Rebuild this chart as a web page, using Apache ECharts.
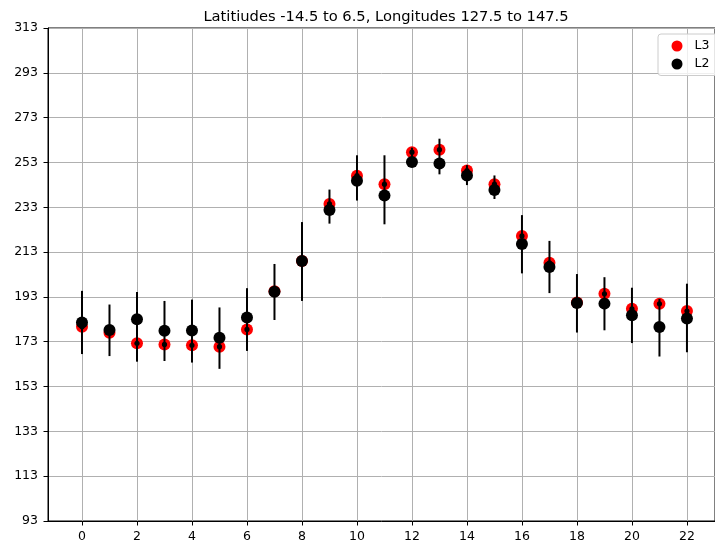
<!DOCTYPE html>
<html>
<head>
<meta charset="utf-8">
<script src="https://cdn.jsdelivr.net/npm/echarts@6/dist/echarts.min.js"></script>
<style>
  html, body { margin: 0; padding: 0; background: #fff; }
  #chart { width: 715px; height: 550px; }
</style>
</head>
<body>
<div id="chart"></div>
<script>
const xs = [0, 1, 2, 3, 4, 5, 6, 7, 8, 9, 10, 11, 12, 13, 14, 15, 16, 17, 18, 19, 20, 21, 22]
const l3 = [179.7, 177.0, 172.3, 171.8, 171.4, 170.8, 178.5, 195.5, 209.0, 234.5, 247.1, 243.3,
  257.6, 258.7, 249.4, 243.3, 220.2, 208.2, 190.5, 194.4, 187.7, 189.9, 186.7]
const l2 = [181.6, 178.2, 183.0, 177.9, 178.0, 174.8, 183.8, 195.3, 209.0, 231.8, 244.8, 238.3,
  253.2, 252.5, 247.2, 240.7, 216.6, 206.3, 190.3, 190.0, 184.8, 179.6, 183.4]
// error bar ends (low / high)
const errLow = [167.5, 166.6, 164.1, 164.4, 163.7, 160.9, 168.9, 182.7, 191.2, 225.7, 236.0, 225.4,
  251.5, 247.7, 242.9, 236.7, 203.5, 194.7, 177.1, 178.1, 172.4, 166.4, 168.3]
const errHigh = [195.7, 189.6, 195.2, 191.2, 191.8, 188.3, 196.9, 207.7, 226.4, 240.9, 256.2, 256.2,
  259.6, 263.6, 251.8, 247.2, 229.5, 218.0, 203.2, 201.8, 197.1, 192.1, 198.9]
const xTicks = [0, 2, 4, 6, 8, 10, 12, 14, 16, 18, 20, 22]

const font = 'DejaVu Sans'
const chart = echarts.init(document.getElementById('chart'))

const option = {
  animation: false,
  title: {
    text: 'Latitiudes -14.5 to 6.5, Longitudes 127.5 to 147.5',
    left: 381,
    textAlign: 'center',
    top: 5,
    textStyle: { fontFamily: font, fontWeight: 'normal', fontSize: 14.7, color: '#000' }
  },
  legend: {
    orient: 'vertical',
    left: 658,
    top: 34,
    data: ['L3', 'L2'],
    icon: 'circle',
    itemWidth: 25,
    itemHeight: 11,
    itemGap: 5,
    padding: [5.5, 20, 5, 13.5],
    borderColor: '#cccccc',
    borderWidth: 1,
    borderRadius: 3,
    backgroundColor: 'rgba(255,255,255,0.8)',
    textStyle: { fontFamily: font, fontSize: 12.5, color: '#000' }
  },
  grid: {
    left: 48,
    right: 0,
    top: 28,
    bottom: 29,
    show: true,
    borderColor: '#000',
    borderWidth: 1
  },
  xAxis: {
    type: 'value',
    min: -1.236,
    max: 23.02,
    axisLine: { show: true, onZero: false, lineStyle: { color: '#000', width: 1 } },
    axisTick: { show: true, length: 4.5, customValues: xTicks, lineStyle: { color: '#000' } },
    axisLabel: { customValues: xTicks, margin: 9, fontFamily: font, fontSize: 12.5, color: '#000' },
    splitLine: { show: true, lineStyle: { color: '#b0b0b0', width: 1 } }
  },
  yAxis: {
    type: 'value',
    min: 93,
    max: 313,
    interval: 20,
    axisLine: { show: true, onZero: false, lineStyle: { color: '#000', width: 1 } },
    axisTick: { show: true, length: 4.5, lineStyle: { color: '#000' } },
    axisLabel: { margin: 10, fontFamily: font, fontSize: 12.5, color: '#000' },
    splitLine: { show: true, lineStyle: { color: '#b0b0b0', width: 1 } }
  },
  series: [
    {
      name: 'L3',
      type: 'scatter',
      symbol: 'circle',
      symbolSize: 12,
      itemStyle: { color: '#ff0000', opacity: 1 },
      emphasis: { disabled: true },
      data: xs.map((x, i) => [x, l3[i]]),
      z: 2
    },
    {
      name: 'err',
      type: 'custom',
      z: 3,
      data: xs.map((x, i) => [x, errLow[i], errHigh[i], l3[i]]),
      encode: { x: 0, y: [1, 2] },
      renderItem: function(params, api) {
        const lo = api.coord([api.value(0), api.value(1)])
        const hi = api.coord([api.value(0), api.value(2)])
        const c = api.coord([api.value(0), api.value(3)])
        return {
          type: 'group',
          children: [
            {
              type: 'line',
              shape: { x1: lo[0], y1: lo[1], x2: hi[0], y2: hi[1] },
              style: { stroke: '#000', lineWidth: 2 }
            },
            {
              type: 'circle',
              shape: { cx: c[0], cy: c[1], r: 2.6 },
              style: { fill: '#000' }
            }
          ]
        }
      }
    },
    {
      name: 'L2',
      type: 'scatter',
      symbol: 'circle',
      symbolSize: 12,
      itemStyle: { color: '#000000', opacity: 1 },
      emphasis: { disabled: true },
      data: xs.map((x, i) => [x, l2[i]]),
      z: 4
    }
  ]
}

chart.setOption(option)
</script>
</body>
</html>
